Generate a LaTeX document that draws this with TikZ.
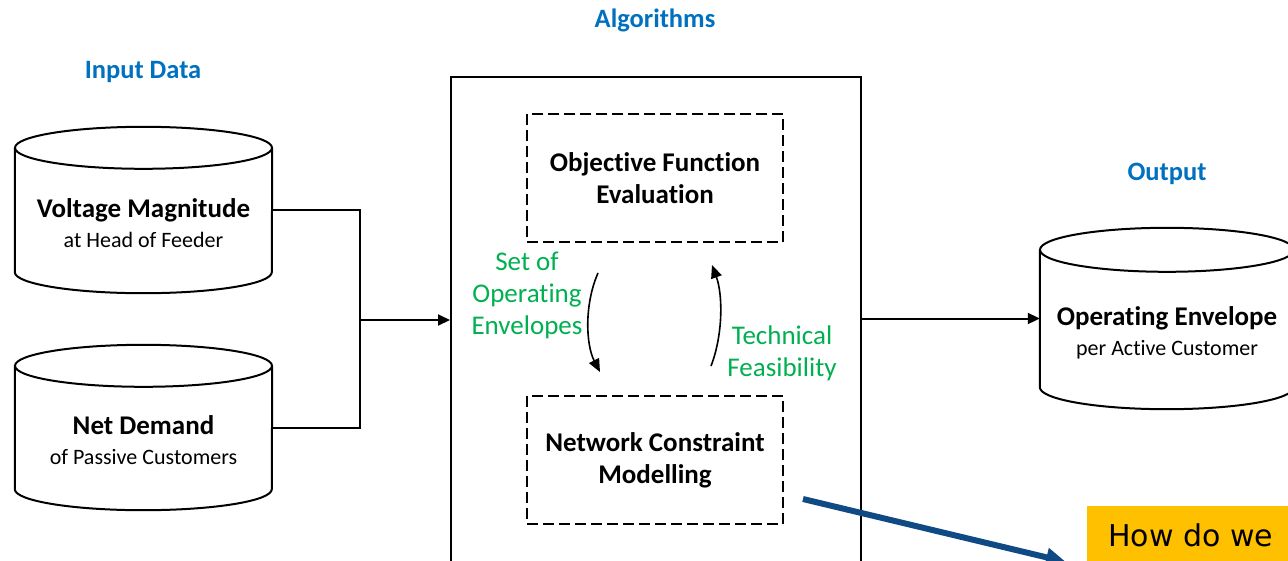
\documentclass[tikz,border=0pt]{standalone}
\usepackage{fontspec}
\setmainfont{Carlito}[Ligatures={NoCommon,NoContextual,NoRare,NoRequired}]
\newfontfamily\calloutfont{DejaVu Sans}
\usetikzlibrary{arrows.meta}
\definecolor{hdrblue}{HTML}{0070C0}
\definecolor{grn}{HTML}{00B050}
\definecolor{navy}{HTML}{0F4A85}
\definecolor{gold}{HTML}{FFC000}
\tikzset{
  hdr/.style={font=\fontsize{26.5}{30}\selectfont\bfseries, text=hdrblue, inner sep=0},
  cylbody/.style={inner sep=0, draw=none},
  ttl/.style={inner sep=0, align=center, font=\fontsize{22}{30}\selectfont},
  grnlbl/.style={inner sep=0, align=center, text=grn, font=\fontsize{27}{32}\selectfont},
  dbox/.style={draw, dashed, dash pattern=on 11pt off 5pt, line width=2pt, minimum width=256, minimum height=128, align=center, font=\fontsize{27}{32}\selectfont\bfseries},
  conn/.style={line width=2pt},
  tip/.style={-{Triangle[length=12pt,width=11pt]}},
}
\newcommand{\cylshape}[1]{%
  \draw[line width=2pt] (#1.north west) -- (#1.south west)
    arc[start angle=180, end angle=0, x radius=\cylrx, y radius=\cylry] -- (#1.north east);
  \draw[line width=2pt] (#1.north) ellipse[x radius=\cylrx, y radius=\cylry];}
\begin{document}
\begin{tikzpicture}[x=1pt,y=-1pt]
\useasboundingbox (0,0) rectangle (1288,560);
\clip (0,0) rectangle (1288,560);
% headers
\node[hdr] (halg) at (655,20) {Algorithms};
\node[hdr] (hin) at (143,72) {Input Data};
\node[hdr] (hout) at (1167,174) {Output};
% input cylinders
\def\cylrx{128.5}\def\cylry{21}
\node[cylbody, minimum width=257, minimum height=124] (volt) at (143.5,210) {};
\cylshape{volt}
\node[ttl] (volttxt) at (143.5,223) {{\fontsize{27}{30}\selectfont\bfseries Voltage Magnitude}\\at Head of Feeder};
\node[cylbody, minimum width=257, minimum height=123] (net) at (143.5,427.5) {};
\cylshape{net}
\node[ttl] (nettxt) at (143.5,440) {{\fontsize{27}{30}\selectfont\bfseries Net Demand}\\of Passive Customers};
% main box
\node[draw, line width=2pt, minimum width=410, minimum height=560, anchor=north west, inner sep=0] (main) at (450,76) {};
\node[dbox] (obj) at (655,178) {Objective Function\\Evaluation};
\node[dbox] (ncm) at (655,460) {Network Constraint\\Modelling};
% loop arrows
\coordinate (l1) at (598,273);
\coordinate (l2) at (600,372);
\coordinate (r1) at (711,366);
\coordinate (r2) at (712,265);
\draw[line width=1.6pt, -{Triangle[length=13pt,width=11pt]}] (l1) .. controls (584,305) and (586,345) .. (l2);
\draw[line width=1.6pt, -{Triangle[length=13pt,width=11pt]}] (r1) .. controls (723,335) and (723,295) .. (r2);
\node[grnlbl] (setlbl) at (527,295) {Set of\\Operating\\Envelopes};
\node[grnlbl] (techlbl) at (782,353) {Technical\\Feasibility};
% input connectors
\coordinate (j) at (360,320);
\draw[conn] (volt.east) -| (j);
\draw[conn] (net.east) -| (j);
\draw[conn, tip] (j) -- (main.west |- j);
% output cylinder
\def\cylrx{127}\def\cylry{22}
\node[cylbody, minimum width=254, minimum height=137] (outc) at (1167,318.5) {};
\cylshape{outc}
\node[ttl] (outtxt) at (1167,333) {{\fontsize{27}{30}\selectfont\bfseries Operating Envelope}\\per Active Customer};
\draw[conn, tip] (main.east |- outc.west) -- (outc.west);
% callout
\fill[gold] (1087,506) rectangle (1300,600);
\node[anchor=base west, inner sep=0, font=\calloutfont\fontsize{30}{36}\selectfont] (q) at (1108,546) {How do we};
\coordinate (bs) at (803,499);
\coordinate (be) at (1066,562);
\draw[navy, line width=6pt, -{Triangle[length=20pt,width=18pt]}] (bs) -- (be);
\end{tikzpicture}
\end{document}
